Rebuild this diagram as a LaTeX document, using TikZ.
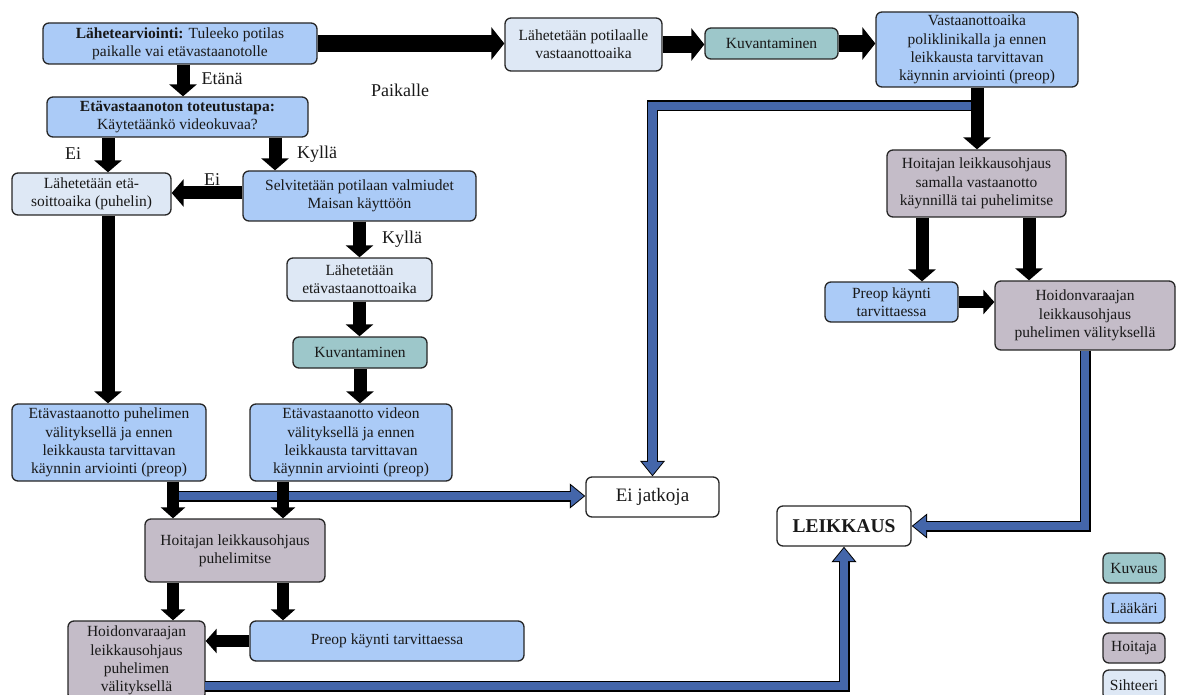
\documentclass[tikz,border=0pt]{standalone}
\usepackage{fontspec}
\setmainfont{Liberation Serif}
\usetikzlibrary{arrows.meta,calc}
\definecolor{laak}{RGB}{171,203,247}
\definecolor{siht}{RGB}{222,232,245}
\definecolor{hoit}{RGB}{196,188,200}
\definecolor{kuva}{RGB}{157,199,202}
\definecolor{barblue}{RGB}{68,102,170}
\newcommand\bluepath[1]{%
  \draw[bluebase] #1;
  \draw[bluetop] #1;}
\begin{document}
\begin{tikzpicture}[x=1pt,y=-1pt,
  box/.style={draw=black!85, line width=1.3pt, rounded corners=6pt, align=center,
    inner sep=0pt, font=\fontsize{15.5}{18.3}\selectfont, text=black!90},
  lk/.style={box, fill=laak},
  sh/.style={box, fill=siht},
  ho/.style={box, fill=hoit},
  ku/.style={box, fill=kuva},
  wh/.style={box, fill=white},
  lbl/.style={inner sep=0pt, font=\fontsize{18}{20}\selectfont, text=black!90},
  blk/.style={draw=black, line width=13pt, -{Triangle[width=27pt,length=12pt]}},
  blkbig/.style={draw=black, line width=17pt, -{Triangle[width=32pt,length=13pt]}},
  blkm/.style={draw=black, line width=12pt, -{Triangle[width=24pt,length=11pt]}},
  bluebase/.style={draw=black, line width=11pt, line join=miter, -{Triangle[width=24pt,length=15.5pt]}},
  bluetop/.style={draw=barblue, line width=8.5pt, line join=miter, shorten >=1.5pt, -{Triangle[width=20pt,length=13pt]}},
]
\useasboundingbox (0,0) rectangle (1178,695);
\clip (0,0) rectangle (1178,695);

% nodes
\node[lk, minimum width=274pt, minimum height=41pt] (lahete) at (180,43.5) {\textbf{Lähetearviointi:} Tuleeko potilas\\paikalle vai etävastaanotolle};
\node[lk, minimum width=261pt, minimum height=40pt] (eta) at (177.5,117) {\textbf{Etävastaanoton toteutustapa:}\\Käytetäänkö videokuvaa?};
\node[sh, minimum width=159pt, minimum height=42pt] (lahEta) at (91.5,194) {Lähetetään etä-\\soittoaika (puhelin)};
\node[lk, minimum width=233pt, minimum height=50pt] (selv) at (359.5,196) {Selvitetään potilaan valmiudet\\Maisan käyttöön};
\node[sh, minimum width=145pt, minimum height=43pt] (lahEtv) at (359.5,279.5) {Lähetetään\\etävastaanottoaika};
\node[ku, minimum width=134pt, minimum height=31pt] (kuv2) at (360,352.5) {Kuvantaminen};
\node[lk, minimum width=194pt, minimum height=77pt] (puh) at (109,442.5) {Etävastaanotto puhelimen\\välityksellä ja ennen\\leikkausta tarvittavan\\käynnin arviointi (preop)};
\node[lk, minimum width=202pt, minimum height=77pt] (vid) at (351,442.5) {Etävastaanotto videon\\välityksellä ja ennen\\leikkausta tarvittavan\\käynnin arviointi (preop)};
\node[ho, minimum width=180pt, minimum height=63pt] (hoitP) at (235,550.5) {Hoitajan leikkausohjaus\\puhelimitse};
\node[ho, minimum width=137pt, minimum height=79pt] (hvl) at (136.5,660.5) {Hoidonvaraajan\\leikkausohjaus\\puhelimen\\välityksellä};
\node[lk, minimum width=274pt, minimum height=40pt] (preopL) at (387,641) {Preop käynti tarvittaessa};
\node[sh, minimum width=157pt, minimum height=53pt] (lahPot) at (583.5,44.5) {Lähetetään potilaalle\\vastaanottoaika};
\node[ku, minimum width=133pt, minimum height=31pt] (kuv1) at (771.5,43.5) {Kuvantaminen};
\node[lk, minimum width=202pt, minimum height=75pt] (vast) at (977,49.5) {Vastaanottoaika\\poliklinikalla ja ennen\\leikkausta tarvittavan\\käynnin arviointi (preop)};
\node[ho, minimum width=179pt, minimum height=67pt] (hoitS) at (976.5,183.5) {Hoitajan leikkausohjaus\\samalla vastaanotto\\käynnillä tai puhelimitse};
\node[lk, minimum width=133pt, minimum height=40pt] (preopR) at (891.5,302) {Preop käynti\\tarvittaessa};
\node[ho, minimum width=180pt, minimum height=69pt] (hvr) at (1085,315.5) {Hoidonvaraajan\\leikkausohjaus\\puhelimen välityksellä};
\node[wh, minimum width=133pt, minimum height=40pt, font=\fontsize{19}{21}\selectfont] (eij) at (652.5,497) {Ei jatkoja};
\node[wh, minimum width=134pt, minimum height=40pt, font=\fontsize{19.5}{21}\selectfont] (leik) at (844,526) {\textbf{LEIKKAUS}};

% legend
\node[ku, minimum width=62pt, minimum height=30pt] (legK) at (1134,568) {Kuvaus};
\node[lk, minimum width=62pt, minimum height=30pt] (legL) at (1134,608) {Lääkäri};
\node[ho, minimum width=62pt, minimum height=30pt] (legH) at (1134,648) {Hoitaja};
\node[sh, minimum width=62pt, minimum height=30pt] (legS) at (1134,685) {Sihteeri};

% labels
\node[lbl] (tEtana) at (222,79) {Etänä};
\node[lbl] (tPaik) at (400,90) {Paikalle};
\node[lbl] (tEi1) at (73,154) {Ei};
\node[lbl] (tKy1) at (317,154) {Kyllä};
\node[lbl] (tEi2) at (212,180) {Ei};
\node[lbl] (tKy2) at (402,239) {Kyllä};

% helper coordinates
\coordinate (x108) at (108,0);
\coordinate (x183) at (183,0);
\coordinate (x275) at (275,0);
\coordinate (x173) at (173,0);
\coordinate (x283) at (283,0);
\coordinate (x922) at (922,0);
\coordinate (x1029) at (1029,0);
\coordinate (y193) at (0,193);
\coordinate (bv1) at (977,106);
\coordinate (bp1) at (176,496);
\coordinate (bh1) at (205,686);

% blue connectors
\bluepath{(bv1) -| (eij.north)}
\bluepath{(bp1) -- (bp1 -| eij.west)}
\bluepath{(hvr.south) |- (leik.east)}
\bluepath{(bh1) -| (leik.south)}

% black connectors
\draw[blk] (lahete.south -| x183) -- (eta.north -| x183);
\draw[blkbig] (lahete.east) -- (lahete.east -| lahPot.west);
\draw[blkbig] (lahPot.east) -- (lahPot.east -| kuv1.west);
\draw[blkbig] (kuv1.east) -- (kuv1.east -| vast.west);
\draw[blk] (vast.south) -- (vast.south |- hoitS.north);
\draw[blk] (eta.south -| x108) -- (lahEta.north -| x108);
\draw[blk] (eta.south -| x275) -- (selv.north -| x275);
\draw[blk] (selv.west |- y193) -- (lahEta.east |- y193);
\draw[blk] (lahEta.south -| x108) -- (puh.north -| x108);
\draw[blk] (selv.south) -- (selv.south |- lahEtv.north);
\draw[blk] (lahEtv.south) -- (lahEtv.south |- kuv2.north);
\draw[blk] (kuv2.south) -- (kuv2.south |- vid.north);
\draw[blkm] (puh.south -| x173) -- (hoitP.north -| x173);
\draw[blkm] (vid.south -| x283) -- (hoitP.north -| x283);
\draw[blkm] (hoitP.south -| x173) -- (hvl.north -| x173);
\draw[blkm] (hoitP.south -| x283) -- (preopL.north -| x283);
\draw[blkm] (preopL.west) -- (preopL.west -| hvl.east);
\draw[blk] (hoitS.south -| x922) -- (preopR.north -| x922);
\draw[blk] (hoitS.south -| x1029) -- (hvr.north -| x1029);
\draw[blkm] (preopR.east) -- (preopR.east -| hvr.west);
\end{tikzpicture}
\end{document}
